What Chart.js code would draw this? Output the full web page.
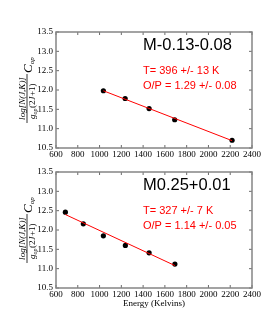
<!DOCTYPE html>
<html>
<head>
<meta charset="utf-8">
<script src="https://cdn.jsdelivr.net/npm/chart.js@4/dist/chart.umd.min.js"></script>
<style>
  html, body { margin: 0; padding: 0; background: #fff; }
  #wrap { position: relative; width: 280px; height: 320px; }
  canvas { position: absolute; left: 0; }
</style>
</head>
<body>
<div id="wrap">
  <canvas id="top" width="280" height="160" style="top:0"></canvas>
  <canvas id="bot" width="280" height="160" style="top:160px"></canvas>
</div>
<script>
// panel 1: M-0.13-0.08
const energyTop = [1035, 1235, 1455, 1690, 2217];
const colTop = [11.98, 11.78, 11.52, 11.23, 10.70];
const fitTopX = [1035, 2217];
const fitTopY = [11.98, 10.69];

// panel 2: M0.25+0.01
const energyBot = [686, 851, 1035, 1237, 1455, 1692];
const colBot = [12.46, 12.16, 11.85, 11.60, 11.41, 11.12];
const fitBotX = [686, 1692];
const fitBotY = [12.40, 11.08];

const xTicks = [600, 800, 1000, 1200, 1400, 1600, 1800, 2000, 2200, 2400];
const yTicks = [10.5, 11.0, 11.5, 12.0, 12.5, 13.0, 13.5];

const serif = '"Liberation Serif", "DejaVu Serif", serif';
const sans = '"Liberation Sans", Arial, sans-serif';

function drawYLabel(ctx, cx, cy) {
  ctx.save();
  ctx.translate(cx, cy);
  ctx.rotate(-Math.PI / 2);
  ctx.fillStyle = '#000';
  ctx.strokeStyle = '#000';
  ctx.textBaseline = 'alphabetic';
  // numerator
  ctx.font = 'italic 9px ' + serif;
  ctx.textAlign = 'center';
  ctx.fillText('log[N(J,K)]', -8.5, -2);
  // bar
  ctx.lineWidth = 0.8;
  ctx.beginPath(); ctx.moveTo(-33, 0); ctx.lineTo(16, 0); ctx.stroke();
  // denominator: g_op(2J+1)
  ctx.textAlign = 'left';
  let u = -29;
  ctx.font = 'italic 9px ' + serif;
  ctx.fillText('g', u, 8); u += ctx.measureText('g').width;
  ctx.font = 'italic 6px ' + serif;
  ctx.fillText('op', u, 9.5); u += ctx.measureText('op').width + 0.5;
  ctx.font = '9px ' + serif;
  ctx.fillText('(2', u, 8); u += ctx.measureText('(2').width;
  ctx.font = 'italic 9px ' + serif;
  ctx.fillText('J', u, 8); u += ctx.measureText('J').width + 0.5;
  ctx.font = '9px ' + serif;
  ctx.fillText('+1)', u, 8);
  // C_op
  ctx.font = 'italic 13px ' + serif;
  ctx.fillText('C', 17, 4.5);
  const cw = ctx.measureText('C').width;
  ctx.font = 'italic 7px ' + serif;
  ctx.fillText('op', 17 + cw, 7);
  ctx.restore();
}

const framePlugin = {
  id: 'frame',
  afterDraw(chart, args, opts) {
    const ctx = chart.ctx, a = chart.chartArea;
    const x = chart.scales.x, y = chart.scales.y;
    ctx.save();
    ctx.strokeStyle = '#444';
    ctx.lineWidth = 0.8;
    ctx.beginPath();
    x.ticks.forEach(t => {
      const px = x.getPixelForValue(t.value);
      ctx.moveTo(px, a.bottom); ctx.lineTo(px, a.bottom - 3);
      ctx.moveTo(px, a.top); ctx.lineTo(px, a.top + 3);
    });
    y.ticks.forEach(t => {
      const py = y.getPixelForValue(t.value);
      ctx.moveTo(a.left, py); ctx.lineTo(a.left + 3, py);
      ctx.moveTo(a.right, py); ctx.lineTo(a.right - 3, py);
    });
    ctx.stroke();
    ctx.strokeStyle = '#858585';
    ctx.lineWidth = 1.5;
    ctx.strokeRect(a.left, a.top, a.right - a.left, a.bottom - a.top);

    // annotations
    const tx = a.left + 87;
    ctx.textAlign = 'left';
    ctx.textBaseline = 'middle';
    ctx.fillStyle = '#000';
    ctx.font = '16.5px ' + sans;
    ctx.fillText(opts.name, tx, a.top + 13.5);
    ctx.fillStyle = '#ff0000';
    ctx.font = '11px ' + sans;
    ctx.fillText(opts.temp, tx, a.top + 38.5);
    ctx.fillText(opts.ratio, tx, a.top + 54);

    drawYLabel(ctx, 27, (a.top + a.bottom) / 2);

    if (opts.xTitle) {
      ctx.fillStyle = '#000';
      ctx.textAlign = 'center';
      ctx.font = '9px ' + serif;
      ctx.fillText(opts.xTitle, (a.left + a.right) / 2, a.bottom + 16);
    }
    ctx.restore();
  }
};

function makePanel(id, xs, ys, fx, fy, name, temp, ratio, padTop, xHeight, xTitle) {
  return new Chart(document.getElementById(id), {
    type: 'scatter',
    data: {
      datasets: [
        { type: 'line', data: fx.map((v, i) => ({ x: v, y: fy[i] })), borderColor: '#ff0000', borderWidth: 1, pointRadius: 0, fill: false },
        { data: xs.map((v, i) => ({ x: v, y: ys[i] })), backgroundColor: '#000', borderColor: '#000', borderWidth: 0, pointRadius: 2.6, pointHoverRadius: 2.6 }
      ]
    },
    options: {
      responsive: false,
      animation: false,
      devicePixelRatio: 1,
      layout: { padding: { left: 0, right: 28, top: padTop, bottom: 0 } },
      plugins: {
        legend: { display: false },
        tooltip: { enabled: false },
        frame: { name: name, temp: temp, ratio: ratio, xTitle: xTitle }
      },
      scales: {
        x: {
          type: 'linear', min: 600, max: 2400,
          afterBuildTicks: s => { s.ticks = xTicks.map(v => ({ value: v })); },
          afterFit: s => { s.height = xHeight; },
          grid: { display: false, drawTicks: false },
          border: { display: false },
          ticks: { color: '#000', font: { family: serif, size: 9 }, padding: 1, maxRotation: 0, autoSkip: false, callback: v => String(v) }
        },
        y: {
          type: 'linear', min: 10.5, max: 13.5,
          afterBuildTicks: s => { s.ticks = yTicks.map(v => ({ value: v })); },
          afterFit: s => { s.width = 56; },
          grid: { display: false, drawTicks: false },
          border: { display: false },
          ticks: { color: '#000', font: { family: serif, size: 9 }, padding: 3, callback: v => v.toFixed(1) }
        }
      }
    },
    plugins: [framePlugin]
  });
}

makePanel('top', energyTop, colTop, fitTopX, fitTopY, 'M-0.13-0.08', 'T= 396 +/- 13 K', 'O/P = 1.29 +/- 0.08', 32, 12, null);
makePanel('bot', energyBot, colBot, fitBotX, fitBotY, 'M0.25+0.01', 'T= 327 +/- 7 K', 'O/P = 1.14 +/- 0.05', 12, 32, 'Energy (Kelvins)');
</script>
</body>
</html>
